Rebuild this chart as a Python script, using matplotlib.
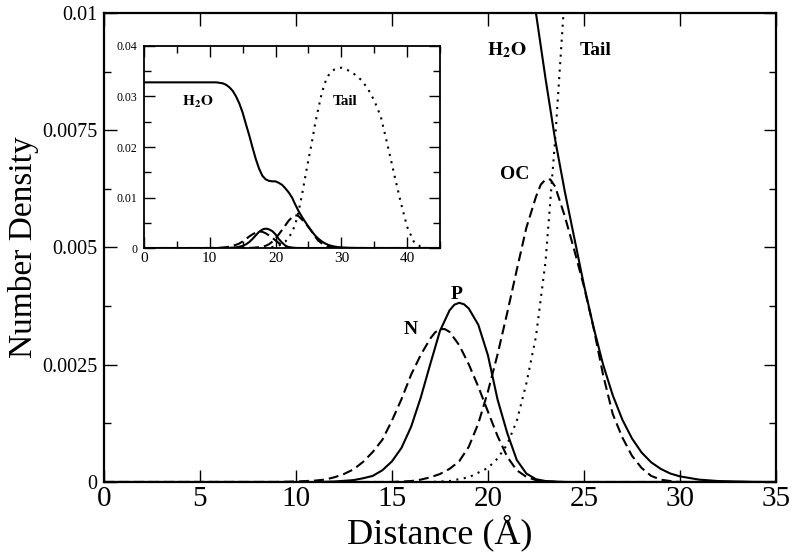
import matplotlib
matplotlib.use("Agg")
import matplotlib.pyplot as plt
from matplotlib.ticker import MultipleLocator, FuncFormatter

plt.rcParams['font.family'] = ['Liberation Serif', 'DejaVu Serif']
plt.rcParams['mathtext.fontset'] = 'stix'

# Number density profiles (distance in Angstrom)
h2o_x = [0, 2, 4, 6, 8, 10, 11, 11.5, 12, 12.5, 13, 13.5, 14, 14.5, 15, 15.5, 16, 16.5,
         17, 17.5, 18, 18.5, 19, 19.5, 20, 20.5, 21, 21.5, 22, 22.5, 23, 23.5, 24, 24.5,
         25, 25.5, 26, 26.5, 27, 27.5, 28, 28.5, 29, 29.5, 30, 31, 32, 33, 34, 36, 40, 45]
h2o_y = [0.0328, 0.0328, 0.0328, 0.0328, 0.0328, 0.0328, 0.0328, 0.0327, 0.0326, 0.0323,
         0.0318, 0.0311, 0.0300, 0.0286, 0.0268, 0.0245, 0.0223, 0.0199, 0.0176, 0.0157,
         0.0143, 0.0136, 0.0133, 0.0132, 0.0132, 0.0129, 0.0125, 0.0118, 0.0110, 0.0100,
         0.0086, 0.0073, 0.0062, 0.0052, 0.0042, 0.0033, 0.0025, 0.00185, 0.00133, 0.00093,
         0.00063, 0.00042, 0.00028, 0.00018, 0.00012, 0.00005, 0.00002, 0.00001, 0.0, 0.0,
         0.0, 0.0]

n_x = [0, 9, 10, 11, 11.5, 12, 12.5, 13, 13.5, 14, 14.5, 15, 15.5, 16, 16.5, 17, 17.25,
       17.5, 17.75, 18, 18.5, 19, 19.5, 20, 20.5, 21, 21.5, 22, 22.5, 23, 24, 45]
n_y = [0.0, 0.0, 0.00001, 0.00003, 0.00005, 0.00010, 0.00017, 0.00027, 0.00043, 0.00064,
       0.00090, 0.00131, 0.00177, 0.00229, 0.00271, 0.00306, 0.00319, 0.00326, 0.00326,
       0.00320, 0.00292, 0.00251, 0.00203, 0.00150, 0.00098, 0.00054, 0.00025, 0.00011,
       0.00004, 0.00001, 0.0, 0.0]

p_x = [0, 11, 12, 13, 13.5, 14, 14.5, 15, 15.5, 16, 16.5, 17, 17.5, 18, 18.25, 18.5,
       18.75, 19, 19.5, 20, 20.5, 21, 21.5, 22, 22.5, 23, 24, 45]
p_y = [0.0, 0.0, 0.00001, 0.00004, 0.00008, 0.00013, 0.00025, 0.00044, 0.00073, 0.00118,
       0.00180, 0.00252, 0.00322, 0.00366, 0.00378, 0.00382, 0.00379, 0.00370, 0.00335,
       0.00270, 0.00176, 0.00105, 0.00047, 0.00018, 0.00006, 0.00002, 0.0, 0.0]

oc_x = [0, 15, 16, 16.5, 17, 17.5, 18, 18.5, 19, 19.5, 20, 20.5, 21, 21.5, 22, 22.5,
        22.75, 23, 23.25, 23.5, 24, 24.5, 25, 25.5, 26, 26.5, 27, 27.5, 28, 28.5, 29,
        29.5, 30, 45]
oc_y = [0.0, 0.0, 0.00002, 0.00005, 0.00010, 0.00017, 0.00028, 0.00044, 0.00075, 0.00125,
        0.00193, 0.00272, 0.00360, 0.00452, 0.00542, 0.00608, 0.00634, 0.00645, 0.00645,
        0.00630, 0.00567, 0.00494, 0.00417, 0.00329, 0.00228, 0.00145, 0.00095, 0.00056,
        0.00030, 0.00013, 0.00005, 0.00002, 0.0, 0.0]

tail_x = [0, 17, 18, 19, 20, 20.5, 21, 21.5, 22, 22.5, 23, 23.5, 24, 24.5, 25, 25.5, 26,
          26.5, 27, 27.5, 28, 28.5, 29, 29.5, 30, 31, 32, 33, 34, 35, 36, 37, 38, 39, 40,
          41, 42, 43, 45]
tail_y = [0.0, 0.0, 0.00002, 0.0001, 0.0003, 0.0005, 0.0008, 0.0013, 0.0021, 0.0031,
          0.0047, 0.0073, 0.0104, 0.0140, 0.0175, 0.0208, 0.0245, 0.0276, 0.0305, 0.0327,
          0.0341, 0.0349, 0.0354, 0.0356, 0.0357, 0.0352, 0.0344, 0.0333, 0.0316, 0.0292,
          0.0260, 0.0205, 0.0148, 0.0092, 0.0042, 0.0013, 0.0003, 0.0, 0.0]

series = [
    (h2o_x, h2o_y, 'solid'),
    (n_x, n_y, 'dashed'),
    (p_x, p_y, 'solid'),
    (oc_x, oc_y, 'dashed'),
    (tail_x, tail_y, 'dotted'),
]

main_labels = [(r'$\mathbf{H_2O}$', 21.0, 0.0092), ('Tail', 25.6, 0.0092),
               ('OC', 21.4, 0.00655), ('P', 18.35, 0.0040), ('N', 16.0, 0.00325)]
inset_labels = [(r'$\mathbf{H_2O}$', 8.2, 0.029), ('Tail', 30.5, 0.029)]


def draw_series(ax, lw):
    for x, y, style in series:
        if style == 'solid':
            ax.plot(x, y, color='black', lw=lw, solid_joinstyle='round')
        elif style == 'dashed':
            ax.plot(x, y, color='black', lw=lw, dashes=(4.8, 2.4))
        else:
            ax.plot(x, y, color='black', lw=lw, dashes=(1.0, 2.6))


fmt = FuncFormatter(lambda v, p: '%g' % v)

fig = plt.figure(figsize=(7.95, 5.6), dpi=100)

# main panel
ax = fig.add_axes([0.1308, 0.1393, 0.8452, 0.8375])
draw_series(ax, 1.5)
ax.set_xlim(0, 35)
ax.set_ylim(0, 0.01)
ax.xaxis.set_major_locator(MultipleLocator(5))
ax.yaxis.set_major_locator(MultipleLocator(0.0025))
ax.yaxis.set_minor_locator(MultipleLocator(0.00125))
ax.xaxis.set_major_formatter(fmt)
ax.yaxis.set_major_formatter(fmt)
ax.tick_params(which='both', direction='in', top=True, right=True, width=1.0)
ax.tick_params(which='major', length=9)
ax.tick_params(which='minor', length=5)
ax.tick_params(axis='x', labelsize=21, pad=3)
ax.tick_params(axis='y', labelsize=14.5, pad=5)
for s in ax.spines.values():
    s.set_linewidth(1.6)
ax.set_xlabel('Distance (Å)', fontsize=26, labelpad=2)
ax.set_ylabel('Number Density', fontsize=24)
ax.yaxis.set_label_coords(-0.096, 0.5)
for txt, x, y in main_labels:
    ax.text(x, y, txt, fontsize=14, fontweight='bold', ha='center', va='center')

# inset panel
ins = fig.add_axes([0.1811, 0.5571, 0.3724, 0.3608])
draw_series(ins, 1.5)
ins.set_xlim(0, 45)
ins.set_ylim(0, 0.04)
ins.xaxis.set_major_locator(MultipleLocator(10))
ins.xaxis.set_minor_locator(MultipleLocator(5))
ins.yaxis.set_major_locator(MultipleLocator(0.01))
ins.yaxis.set_minor_locator(MultipleLocator(0.005))
ins.xaxis.set_major_formatter(fmt)
ins.yaxis.set_major_formatter(fmt)
ins.tick_params(which='both', direction='in', top=True, right=True, width=1.0)
ins.tick_params(which='major', length=8)
ins.tick_params(which='minor', length=5)
ins.tick_params(axis='x', labelsize=11, pad=3)
ins.tick_params(axis='y', labelsize=8.5, pad=5)
for s in ins.spines.values():
    s.set_linewidth(1.3)
for txt, x, y in inset_labels:
    ins.text(x, y, txt, fontsize=11, fontweight='bold', ha='center', va='center')

fig.savefig('out.png', dpi=100)
